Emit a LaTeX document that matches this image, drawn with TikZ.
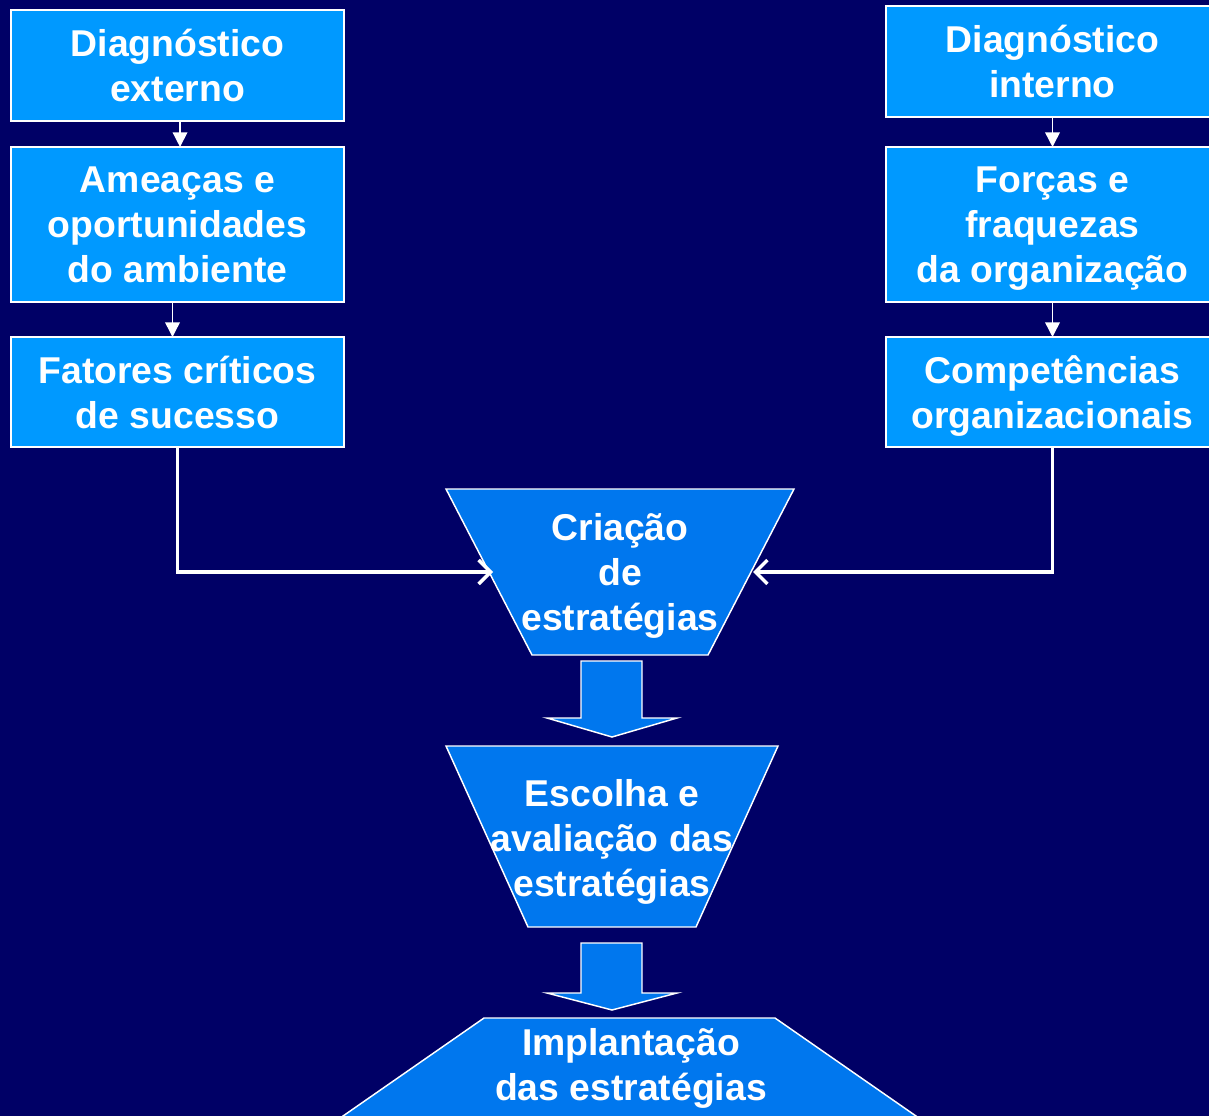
\documentclass[tikz,border=0pt]{standalone}
\usepackage{fontspec}
\setmainfont{Liberation Sans}
\usepackage{xcolor}
\usetikzlibrary{shapes.geometric,arrows.meta,positioning,calc}
\definecolor{navybg}{RGB}{0,0,102}
\definecolor{boxblue}{RGB}{0,153,255}
\definecolor{trapblue}{RGB}{0,119,238}

\begin{document}
\begin{tikzpicture}[x=0.75pt, y=-0.75pt, font=\fontsize{28}{33.75}\selectfont\bfseries, text=white,
  box/.style={draw=white, line width=1.1pt, fill=boxblue, align=center, text depth=0pt, minimum width=249.75pt, inner sep=0pt, outer sep=0pt},
  funnel/.style={draw=white, line width=1.1pt, fill=trapblue},
  ftext/.style={align=center, text depth=0pt, inner sep=0pt},
  small/.style={draw=white, line width=1.1pt, -{Triangle[length=11pt,width=11pt]}},
  feed/.style={draw=white, line width=2.6pt, -{Straight Barb[length=9pt,width=18pt]}},
  bigarr/.style={draw=white, line width=1.1pt, fill=trapblue}]
\clip (0,0) rectangle (1209,1116);
\fill[navybg] (0,0) rectangle (1209,1116);

% left column
\node[box, minimum height=83.25pt] (ext) at (177.5,65.5) {Diagnóstico\\externo};
\node[box, minimum height=116.25pt, below=19.5pt of ext] (amea) {Ameaças e\\oportunidades\\do ambiente};
\node[box, minimum height=82.5pt, below=26.25pt of amea] (fcs) {Fatores críticos\\de sucesso};
% right column
\node[box, minimum height=83.25pt] (intd) at (1052.5,61.5) {Diagnóstico\\interno};
\node[box, minimum height=116.25pt, below=22.5pt of intd] (forc) {Forças e\\fraquezas\\da organização};
\node[box, minimum height=82.5pt, below=26.25pt of forc] (comp) {Competências\\organizacionais};

\draw[small] ([xshift=1.9pt]ext.south) -- ([xshift=1.9pt]amea.north);
\draw[small] ([xshift=-3.75pt]amea.south) -- ([xshift=-3.75pt]fcs.north);
\draw[small] (intd.south) -- (forc.north);
\draw[small] (forc.south) -- (comp.north);

% funnel
\draw[funnel] (446,489) -- (794,489) -- (708,655) -- (532,655) -- cycle;
\node[ftext] (crea) at (620,572) {Criação\\de\\estratégias};
\coordinate (creaw) at (493,572);
\coordinate (creae) at (753,572);
\draw[funnel] (446,746) -- (778,746) -- (696,927) -- (528,927) -- cycle;
\node[ftext] (esc) at (612,837.5) {Escolha e\\avaliação das\\estratégias};
\draw[funnel] (484,1018) -- (775,1018) -- (950.5,1140) -- (308.5,1140) -- cycle;
\node[align=center] (impl) at (631,1068.5) {Implantação\\das estratégias};

\draw[feed] (fcs.south) |- (creaw);
\draw[feed] (comp.south) |- (creae);

\draw[bigarr] (581,661) -- (642,661) -- (642,718) -- (677,718) -- (612,737) -- (547,718) -- (581,718) -- cycle;
\draw[bigarr] (581,943) -- (642,943) -- (642,993) -- (677,993) -- (612,1010) -- (547,993) -- (581,993) -- cycle;
\end{tikzpicture}
\end{document}
